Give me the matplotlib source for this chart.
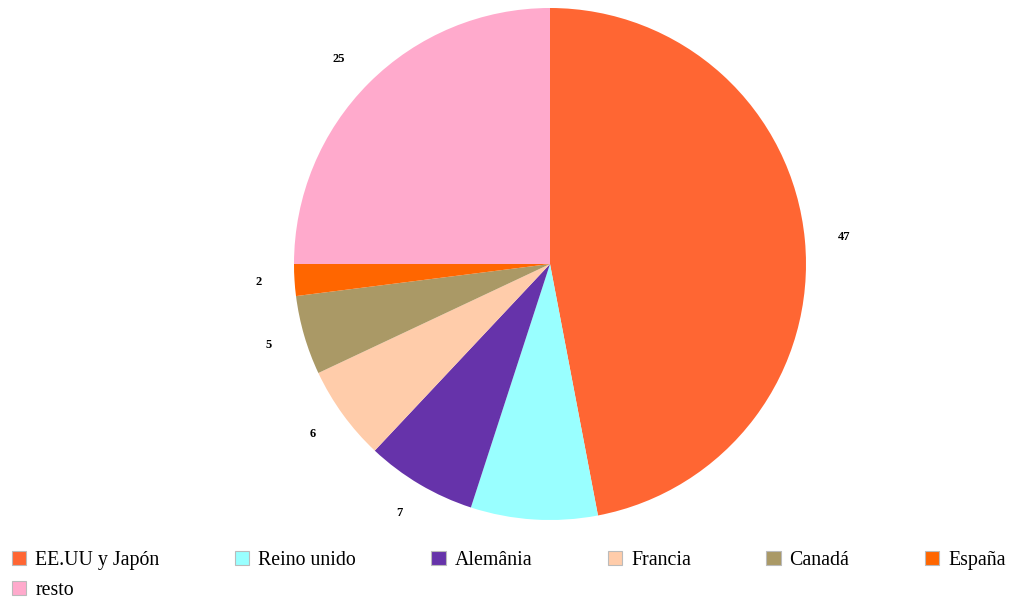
import matplotlib
matplotlib.use('Agg')
import matplotlib.pyplot as plt
from matplotlib.patches import Patch

# reparto por países (%)
paises = ['EE.UU y Japón', 'Reino unido', 'Alemânia', 'Francia', 'Canadá', 'España', 'resto']
valores = [47, 8, 7, 6, 5, 2, 25]
etiquetas = ['47', '', '7', '6', '5', '2', '25']   # Reino unido va sin rótulo
colores = ['#FF6633', '#99FFFF', '#6633AA', '#FFCCAA', '#AA9966', '#FF6600', '#FFAACC']

W, H = 1021, 600
fig = plt.figure(figsize=(W / 100, H / 100), dpi=100, facecolor='white')

# círculo de radio 256 px centrado en (550, 264)
cx, cy, r = 550, 264, 256
ax = fig.add_axes([(cx - r) / W, (H - cy - r) / H, 2 * r / W, 2 * r / H])
ax.pie(valores, labels=etiquetas, colors=colores, startangle=90,
       counterclock=False, labeldistance=1.13,
       wedgeprops=dict(linewidth=0),
       textprops=dict(fontsize=9, fontweight='bold',
                      family='Liberation Serif', color='black'))
ax.set_xlim(-1, 1); ax.set_ylim(-1, 1)
ax.set_aspect('equal')
ax.axis('off')

# la leyenda se llena por columnas: reordenar para que "resto" quede en la 2a fila
handles = [Patch(facecolor=c, edgecolor='#BBBBBB', linewidth=0.8) for c in colores]
orden = [0, 6, 1, 2, 3, 4, 5]
fig.legend([handles[i] for i in orden], [paises[i] for i in orden],
           loc='upper left', bbox_to_anchor=(12 / W, 1 - 551 / H), ncol=6,
           frameon=False, borderpad=0, borderaxespad=0,
           handlelength=0.72, handleheight=0.72, handletextpad=0.45,
           columnspacing=3.8, labelspacing=0.55,
           prop=dict(family='Liberation Serif', size=14.3))

fig.savefig('out.png', dpi=100, facecolor='white')
